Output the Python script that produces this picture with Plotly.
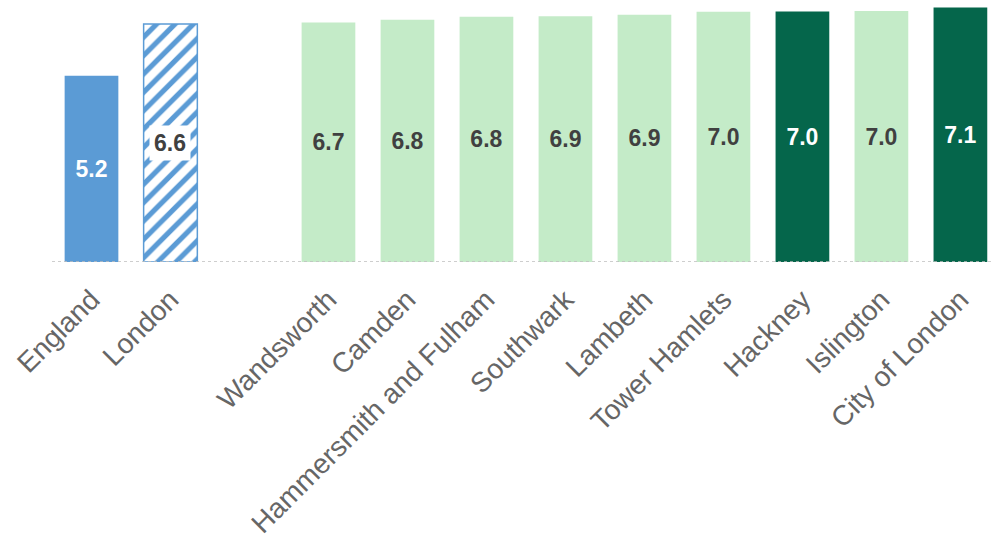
import plotly.graph_objects as go

categories = ["England", "London", " ", "Wandsworth", "Camden", "Hammersmith and Fulham",
              "Southwark", "Lambeth", "Tower Hamlets", "Hackney", "Islington", "City of London"]
values = [5.2, 6.64, None, 6.68, 6.76, 6.84, 6.86, 6.9, 6.98, 6.99, 7.0, 7.1]
groups = ["england", "london", "gap", "borough", "borough", "borough",
          "borough", "borough", "borough", "highlight", "borough", "highlight"]

BLUE = "#5B9BD5"
LIGHT = "#C4EBC8"
DARK = "#05664B"
fill_map = {"england": BLUE, "gap": "white", "borough": LIGHT, "highlight": DARK}
text_map = {"england": "white", "gap": "white", "borough": "#404040", "highlight": "white"}

solid_vals = [None if g == "london" else v for g, v in zip(groups, values)]
london_vals = [v if g == "london" else None for g, v in zip(groups, values)]
colors = [fill_map.get(g, "white") for g in groups]
tcolors = [text_map.get(g, "white") for g in groups]

FONT = "Liberation Sans, Arial"

fig = go.Figure()
fig.add_trace(go.Bar(
    x=categories, y=solid_vals,
    marker=dict(color=colors, line=dict(width=0)),
    texttemplate="%{y:.1f}", textposition="inside", insidetextanchor="middle",
    textangle=0,
    textfont=dict(family=FONT, size=23, color=tcolors, weight="bold"),
    hoverinfo="skip",
))
fig.add_trace(go.Bar(
    x=categories, y=london_vals,
    marker=dict(color="white", line=dict(color=BLUE, width=1.5),
                pattern=dict(shape="/", fgcolor=BLUE, bgcolor="white",
                             size=13, solidity=0.4, fillmode="replace")),
    hoverinfo="skip",
))

# London label with white box
li = groups.index("london")
fig.add_annotation(x=categories[li], y=values[li] / 2, text="<b>%.1f</b>" % values[li],
                   showarrow=False, bgcolor="white", borderpad=4,
                   font=dict(family=FONT, size=23, color="#404040"))

fig.add_shape(type="line", xref="paper", yref="y", x0=0, x1=1, y0=0, y1=0,
              line=dict(color="#BFBFBF", width=1.5, dash="dot"))

fig.update_layout(
    width=992, height=543,
    margin=dict(l=52, r=0, t=0, b=281),
    plot_bgcolor="white", paper_bgcolor="white",
    barmode="overlay", bargap=0.32, showlegend=False,
    font=dict(family=FONT),
    xaxis=dict(type="category", range=[-0.5, 11.4], tickangle=-45,
               tickfont=dict(family=FONT, size=28, color="#666666"),
               showline=False, showgrid=False, zeroline=False,
               ticks="outside", ticklen=9, tickcolor="rgba(0,0,0,0)"),
    yaxis=dict(range=[0, 7.31], visible=False, showgrid=False, zeroline=False),
)

fig.write_html("out.html")
